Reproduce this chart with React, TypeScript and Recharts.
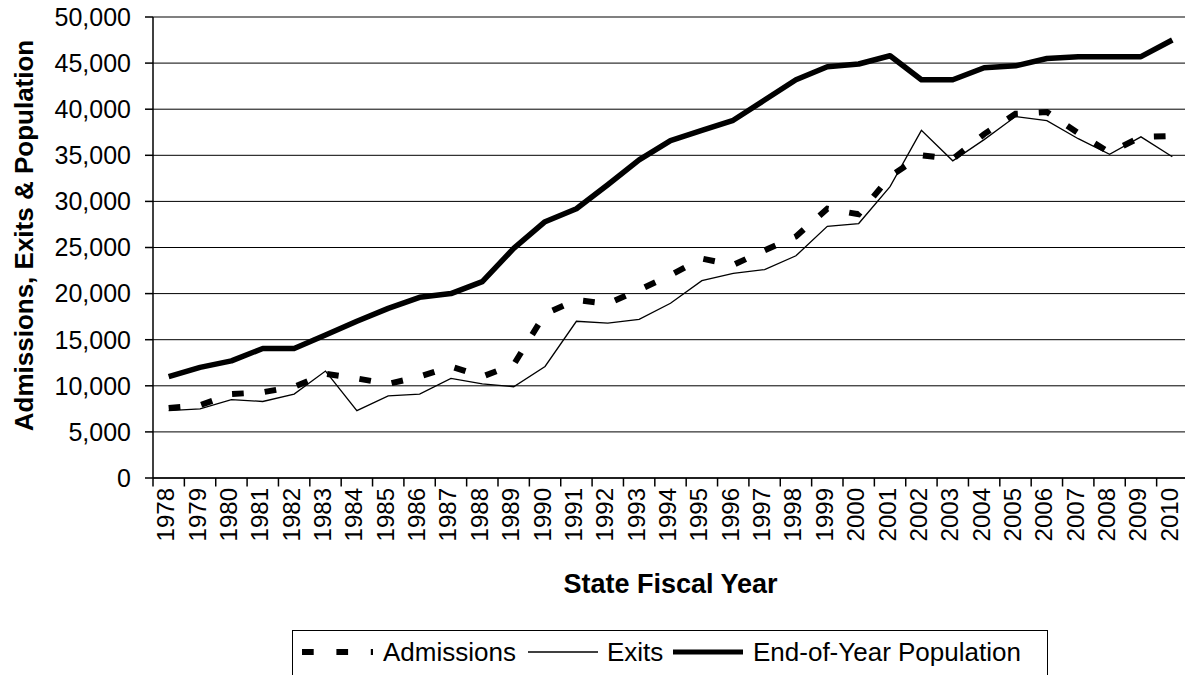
import { LineChart, Line, XAxis, YAxis, CartesianGrid, Legend, ReferenceLine } from "recharts";

const years = [
  "1978", "1979", "1980", "1981", "1982", "1983", "1984", "1985", "1986", "1987", "1988",
  "1989", "1990", "1991", "1992", "1993", "1994", "1995", "1996", "1997", "1998", "1999",
  "2000", "2001", "2002", "2003", "2004", "2005", "2006", "2007", "2008", "2009", "2010",
];

const admissions = [
  7600, 7900, 9100, 9300, 9900, 11300, 10800, 10200, 11000, 12100, 11000,
  12300, 17800, 19300, 18900, 20400, 22000, 23800, 23100, 24700, 26200, 29200,
  28600, 32700, 35000, 34600, 37300, 39500, 39700, 37400, 35300, 37000, 37100,
];

const exits = [
  7300, 7500, 8500, 8300, 9100, 11600, 7300, 8900, 9100, 10800, 10200,
  9900, 12100, 17000, 16800, 17200, 18950, 21400, 22200, 22600, 24100, 27300,
  27600, 31600, 37700, 34400, 36700, 39200, 38750, 36800, 35100, 37000, 34850,
];

const population = [
  11000, 12000, 12700, 14050, 14050, 15500, 17000, 18400, 19600, 20000, 21300,
  24900, 27800, 29200, 31800, 34500, 36600, 37700, 38800, 41000, 43200, 44600,
  44900, 45800, 43200, 43200, 44500, 44700, 45500, 45700, 45700, 45700, 47500,
];

const yTicks = [0, 5000, 10000, 15000, 20000, 25000, 30000, 35000, 40000, 45000, 50000];

const data = years.map((year, i) => ({
  year,
  admissions: admissions[i],
  exits: exits[i],
  population: population[i],
}));

const CHART_W = 1190;
const CHART_H = 675;
const MARGIN = { top: 17, right: 2, left: 0, bottom: 0 };
const Y_AXIS_W = 153;
const X_AXIS_H = 197;
const PLOT_W = CHART_W - MARGIN.left - MARGIN.right - Y_AXIS_W;
const BAND = PLOT_W / years.length;
const FONT = '"Liberation Sans", Arial, sans-serif';

// tick marks sit on category boundaries, labels in the middle
const YearTick = (props: any) => {
  const { x, y, payload } = props;
  const edge = payload.coordinate - BAND / 2;
  const top = y - 22;
  const lx = x - 3;
  const ly = y - 12;
  return (
    <g>
      <line x1={edge} x2={edge} y1={top} y2={top + 8.5} stroke="#000" strokeWidth={1.5} />
      <text
        x={lx}
        y={ly}
        transform={`rotate(-90, ${lx}, ${ly})`}
        textAnchor="end"
        dominantBaseline="central"
        fontSize={24}
        fontFamily={FONT}
        fill="#000"
      >
        {payload.value}
      </text>
    </g>
  );
};

const LegendBox = () => (
  <div
    style={{
      position: "relative",
      width: 756,
      height: 70,
      border: "1px solid #000",
      boxSizing: "border-box",
      background: "#fff",
      fontFamily: FONT,
      fontSize: 26,
      color: "#000",
    }}
  >
    <svg width={756} height={60} style={{ position: "absolute", left: -1, top: -1 }}>
      <line x1={10} x2={81} y1={22} y2={22} stroke="#000" strokeWidth={6} strokeDasharray="11.7 22.7" />
      <line x1={236} x2={306} y1={22} y2={22} stroke="#000" strokeWidth={1.3} />
      <line x1={381} x2={451} y1={22} y2={22} stroke="#000" strokeWidth={5} />
    </svg>
    <span style={{ position: "absolute", left: 90, top: 6, lineHeight: "30px" }}>Admissions</span>
    <span style={{ position: "absolute", left: 314, top: 6, lineHeight: "30px" }}>Exits</span>
    <span style={{ position: "absolute", left: 460, top: 6, lineHeight: "30px" }}>End-of-Year Population</span>
  </div>
);

const App = () => {
  return (
    <div style={{ position: "absolute", left: 0, top: 0, width: 1185, height: 675, overflow: "hidden", background: "#fff" }}>
      <LineChart width={CHART_W} height={CHART_H} data={data} margin={MARGIN} style={{ fontFamily: FONT }}>
        <CartesianGrid vertical={false} stroke="#000" strokeWidth={1} />
        <ReferenceLine y={50000} stroke="#808080" strokeWidth={1.5} />
        <XAxis
          dataKey="year"
          scale="band"
          interval={0}
          height={X_AXIS_H}
          tickSize={8}
          tickMargin={14}
          tickLine={false}
          axisLine={{ stroke: "#000", strokeWidth: 1.5 }}
          tick={<YearTick />}
          label={{
            content: ({ viewBox }: any) => (
              <text
                x={viewBox.x + viewBox.width / 2}
                y={593}
                textAnchor="middle"
                fontSize={27}
                fontWeight="bold"
                fontFamily={FONT}
                fill="#000"
              >
                State Fiscal Year
              </text>
            ),
          }}
        />
        <YAxis
          width={Y_AXIS_W}
          domain={[0, 50000]}
          ticks={yTicks}
          interval={0}
          tickSize={8}
          tickMargin={14}
          tickFormatter={(v: number) => v.toLocaleString("en-US")}
          tick={{ fill: "#000", fontSize: 25, fontFamily: FONT }}
          tickLine={{ stroke: "#000", strokeWidth: 1.5 }}
          axisLine={{ stroke: "#000", strokeWidth: 1.5 }}
          label={{
            content: ({ viewBox }: any) => {
              const cx = 24;
              const cy = viewBox.y + viewBox.height / 2 - 12;
              return (
                <text
                  x={cx}
                  y={cy}
                  transform={`rotate(-90, ${cx}, ${cy})`}
                  textAnchor="middle"
                  dominantBaseline="central"
                  fontSize={26}
                  fontWeight="bold"
                  fontFamily={FONT}
                  fill="#000"
                >
                  Admissions, Exits &amp; Population
                </text>
              );
            },
          }}
        />
        <Legend
          layout="vertical"
          align="center"
          verticalAlign="middle"
          content={<LegendBox />}
          wrapperStyle={{ position: "absolute", left: 292, top: 630, width: 756, height: 45, margin: 0 }}
        />
        <Line
          type="linear"
          dataKey="admissions"
          name="Admissions"
          stroke="#000"
          strokeWidth={6}
          strokeDasharray="11.7 21"
          dot={false}
          activeDot={false}
          isAnimationActive={false}
        />
        <Line
          type="linear"
          dataKey="exits"
          name="Exits"
          stroke="#000"
          strokeWidth={1.3}
          dot={false}
          activeDot={false}
          isAnimationActive={false}
        />
        <Line
          type="linear"
          dataKey="population"
          name="End-of-Year Population"
          stroke="#000"
          strokeWidth={5.5}
          strokeLinejoin="round"
          dot={false}
          activeDot={false}
          isAnimationActive={false}
        />
      </LineChart>
    </div>
  );
};

export default App;
